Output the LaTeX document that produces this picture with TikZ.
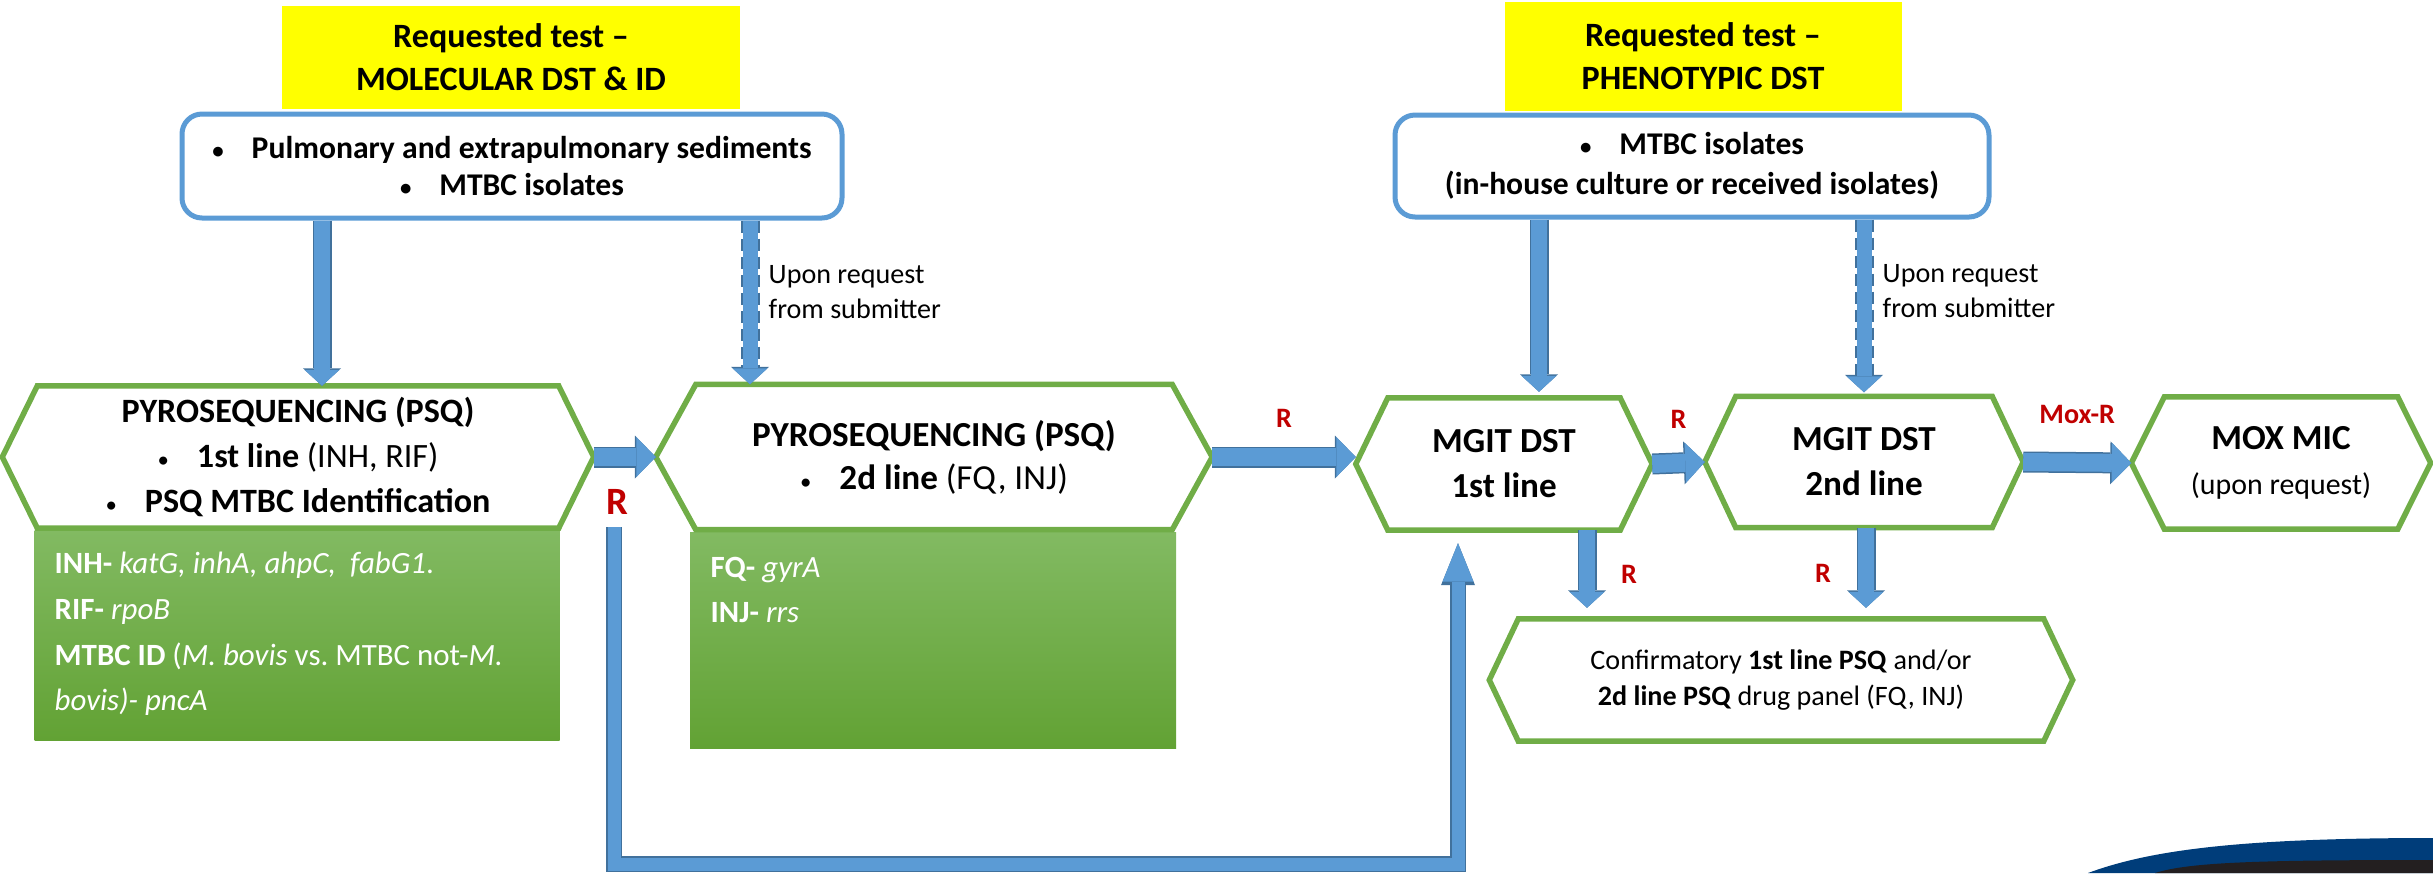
\documentclass[tikz,border=0pt]{standalone}
\usepackage{fontspec}
\setmainfont{Carlito}
\usetikzlibrary{arrows.meta,calc}

\definecolor{reqyellow}{RGB}{255,255,0}
\definecolor{boxblue}{RGB}{91,155,213}
\definecolor{arrowblue}{RGB}{91,155,213}
\definecolor{arrowedge}{RGB}{65,113,156}
\definecolor{hexgreen}{RGB}{112,173,71}
\definecolor{gtop}{RGB}{130,186,98}
\definecolor{gbot}{RGB}{98,162,52}
\definecolor{resred}{RGB}{192,0,0}
\definecolor{logoblue}{RGB}{0,61,122}
\definecolor{logodark}{RGB}{35,31,32}

\newcommand{\listdot}{{\fontsize{6.5}{6.5}\selectfont\textbullet}\hspace{2.8mm}}

\begin{document}
\begin{tikzpicture}[x=0.1mm,y=-0.1mm,
    req/.style={fill=reqyellow, inner sep=0pt, align=center,
      font=\fontsize{9.7}{12.2}\selectfont\bfseries},
    src/.style={draw=boxblue, line width=0.5mm, rounded corners=2mm, fill=white,
      inner sep=0pt, align=center, font=\fontsize{9}{10.8}\selectfont\bfseries},
    hexa/.style={inner sep=0pt, align=center, font=\fontsize{10}{12.8}\selectfont},
    gbox/.style={top color=gtop, bottom color=gbot, inner sep=0pt},
    gtext/.style={text=white, align=left, inner sep=0pt,
      font=\fontsize{8.8}{13}\selectfont},
    note/.style={align=left, inner sep=0pt, font=\fontsize{8}{10}\selectfont},
    res/.style={text=resred, inner sep=0pt, font=\fontsize{8}{10}\selectfont\bfseries},
    flow/.style={line width=1.8mm, draw=arrowblue,
      -{Triangle[width=4mm,length=1.95mm,line width=0pt]},
      preaction={draw=arrowedge, line width=2.1mm,
        -{Triangle[width=4.3mm,length=2.1mm,line width=0pt]}}},
    feed/.style={line width=1.6mm, draw=arrowblue,
      -{Triangle[width=3.5mm,length=1.6mm,line width=0pt]},
      preaction={draw=arrowedge, line width=1.9mm,
        -{Triangle[width=3.8mm,length=1.75mm,line width=0pt]}}},
    optfeed/.style={line width=1.5mm, draw=arrowblue,
      -{Triangle[width=3.5mm,length=1.6mm,line width=0pt]},
      preaction={draw=arrowedge, line width=1.9mm, dash pattern=on 1.2mm off 0.6mm,
        -{Triangle[width=3.8mm,length=1.75mm,line width=0pt]}}},
    loopback/.style={line width=1.3mm, draw=arrowblue,
      -{Triangle[width=3.1mm,length=3.85mm,line width=0pt]},
      preaction={draw=arrowedge, line width=1.6mm,
        -{Triangle[width=3.4mm,length=4.2mm,line width=0pt]}}}]
  \useasboundingbox (0,0) rectangle (2433,873);

  % requested tests
  \node[req, minimum width=45.8mm, minimum height=10.3mm] (reqa) at (511,57)
    {Requested test \textendash\\ MOLECULAR DST \& ID};
  \node[req, minimum width=39.7mm, minimum height=10.9mm] (reqb) at (1703,56)
    {Requested test \textendash\\ PHENOTYPIC DST};

  % specimens
  \node[src, minimum width=66mm, minimum height=10.4mm] (srca) at (512,166)
    {\listdot Pulmonary and extrapulmonary sediments\\
     \listdot MTBC isolates};
  \node[src, minimum width=59.4mm, minimum height=10.2mm,
    font=\fontsize{9}{11.4}\selectfont\bfseries] (srcb) at (1692,166)
    {\listdot MTBC isolates\\
     (in-house culture or received isolates)};

  % gene panels
  \node[gbox, minimum width=52.5mm, minimum height=21mm] (gena) at (297,635) {};
  \node[gbox, minimum width=48.6mm, minimum height=21.6mm] (genb) at (933,640) {};
  \node[gtext, anchor=west] (genatxt) at (54,634)
    {\textbf{INH-} \textit{katG, inhA, ahpC,\ \ fabG1}.\\
     \textbf{RIF-} \textit{rpoB}\\
     \textbf{MTBC ID} (\textit{M.\ bovis} vs.\ MTBC not-\textit{M.}\\
     \textit{bovis)- pncA}};
  \node[gtext, anchor=west] (genbtxt) at (710,590)
    {\textbf{FQ-} \textit{gyrA}\\ \textbf{INJ-} \textit{rrs}};

  % tests
  \node[hexa, minimum width=59mm, minimum height=14.1mm,
    font=\fontsize{9.7}{12.8}\selectfont] (psqa) at (298,457)
    {\textbf{PYROSEQUENCING (PSQ)}\\
     \listdot\textbf{1st line} (INH, RIF)\\
     \listdot\textbf{PSQ MTBC Identification}};
  \node[hexa, minimum width=55.5mm, minimum height=14.4mm,
    font=\fontsize{10}{12.2}\selectfont] (psqb) at (934,457)
    {\textbf{PYROSEQUENCING (PSQ)}\\
     \listdot\textbf{2d line} (FQ, INJ)};
  \node[hexa, minimum width=29.5mm, minimum height=13.1mm] (mgita) at (1504,464)
    {\textbf{MGIT DST}\\ \textbf{1st line}};
  \node[hexa, minimum width=31.7mm, minimum height=13mm] (mgitb) at (1864,462)
    {\textbf{MGIT DST}\\ \textbf{2nd line}};
  \node[hexa, minimum width=29.8mm, minimum height=13.1mm] (mox) at (2281,463)
    {\textbf{MOX MIC}\\ {\fontsize{8.5}{10}\selectfont(upon request)}};
  \node[hexa, minimum width=58.2mm, minimum height=12.1mm,
    font=\fontsize{8}{10}\selectfont] (conf) at (1781,680)
    {Confirmatory \textbf{1st line PSQ} and/or\\
     \textbf{2d line PSQ} drug panel (FQ, INJ)};

  \foreach \n/\d in {psqa/35,psqb/40,mgita/32,mgitb/31,mox/33,conf/29}
    \draw[hexgreen, line width=0.55mm] (\n.west) -- ($(\n.north west)+(\d,0)$)
      -- ($(\n.north east)-(\d,0)$) -- (\n.east) -- ($(\n.south east)-(\d,0)$)
      -- ($(\n.south west)+(\d,0)$) -- cycle;

  % notes
  \node[note, anchor=west] (notea) at (768,292) {Upon request\\from submitter};
  \node[note, anchor=west] (noteb) at (1882,291) {Upon request\\from submitter};

  % connectors
  \draw[feed] (srca.south -| 322,0) -- (psqa.north -| 322,0);
  \draw[optfeed] (srca.south -| 750,0) -- (psqb.north -| 750,0);
  \draw[feed, shorten >=0.6mm] (srcb.south -| 1539,0) -- (mgita.north -| 1539,0);
  \draw[optfeed, shorten >=0.4mm] (srcb.south -| 1864,0) -- (mgitb.north -| 1864,0);

  \draw[flow] (psqa.east) -- (psqb.west);
  \draw[flow] (psqb.east) -- node[res, above=2.1mm] {R} (psqb.east -| mgita.west);
  \draw[flow] (mgita.east) -- node[res, above=2.6mm] {R} (mgitb.west);
  \draw[flow] (mgitb.east) -- node[res, above=3mm] {Mox-R} (mox.west);

  \draw[feed, shorten >=1.1mm] (mgita.south -| 1587,0)
    -- node[res, right=2.6mm] {R} (conf.north -| 1587,0);
  \draw[feed, shorten >=1.1mm] (mgitb.south -| 1866,0)
    -- node[res, left=2.7mm] {R} (conf.north -| 1866,0);

  \node[res, font=\fontsize{11}{12}\selectfont\bfseries] (rbig) at (617,502) {R};
  \coordinate (lstart) at (614,527);
  \coordinate (lturn) at (1458,864);
  \draw[loopback, shorten >=1.3mm] (lstart) |- (lturn) -- (lturn |- mgita.south);

  % logo corner
  \fill[logoblue] (2088,873) .. controls (2150,850) and (2240,838) .. (2433,838)
    -- (2433,873) -- cycle;
  \fill[logodark] (2155,873) .. controls (2190,862) and (2260,860) .. (2433,860)
    -- (2433,873) -- cycle;
\end{tikzpicture}
\end{document}
